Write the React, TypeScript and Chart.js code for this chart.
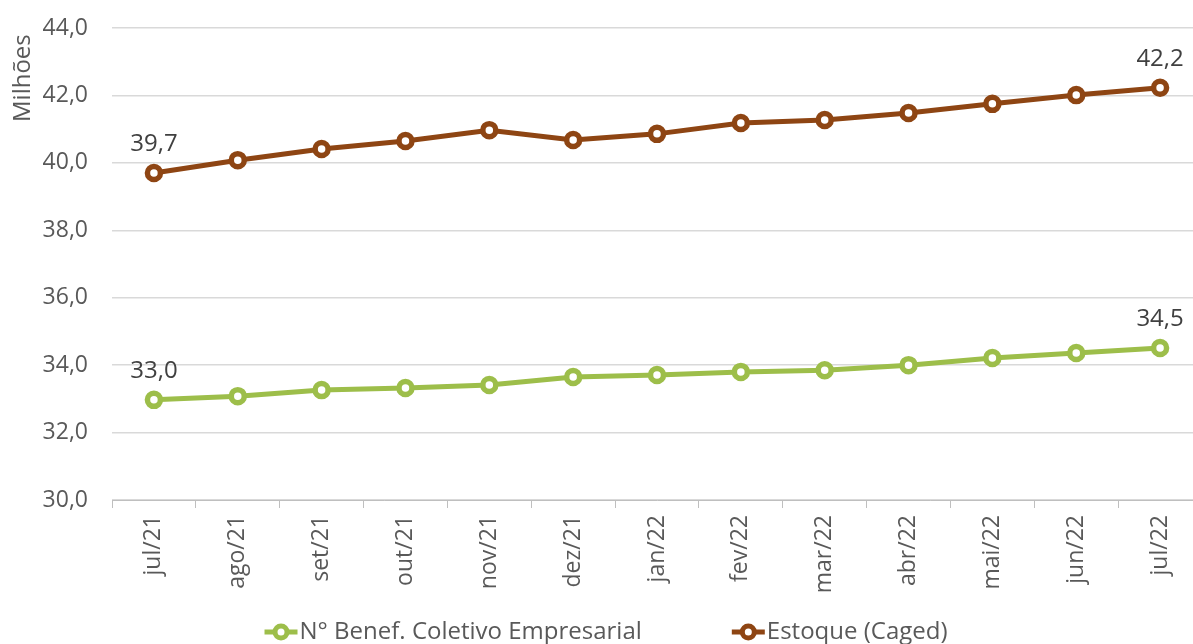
import React, { useEffect, useRef } from "react";
import { Chart, registerables } from "chart.js";

Chart.register(...registerables);

const categories = [
  "jul/21", "ago/21", "set/21", "out/21", "nov/21", "dez/21",
  "jan/22", "fev/22", "mar/22", "abr/22", "mai/22", "jun/22", "jul/22",
];
const coletivo = [32.97, 33.08, 33.26, 33.32, 33.41, 33.65, 33.71, 33.8, 33.85, 34.0, 34.21, 34.36, 34.51];
const estoque = [39.7, 40.08, 40.41, 40.65, 40.97, 40.68, 40.86, 41.18, 41.27, 41.48, 41.75, 42.01, 42.23];
const seriesNames = ["N° Benef. Coletivo Empresarial", "Estoque (Caged)"];
const seriesColors = ["#9DBE4A", "#8E4513"];
const yMin = 30;
const yMax = 44;
const yStep = 2;
const yTitle = "Milhões";

const FONT = "'Open Sans', 'Noto Sans', sans-serif";
const fmt = (v: number) => v.toFixed(1).replace(".", ",");

const CANVAS_W = 1214;
const CANVAS_H = 644;

const labelPlugin = {
  id: "endLabels",
  afterDatasetsDraw(chart: any) {
    const ctx = chart.ctx;
    ctx.save();
    ctx.font = `24px ${FONT}`;
    ctx.fillStyle = "#404040";
    ctx.textAlign = "center";
    ctx.textBaseline = "middle";
    chart.data.datasets.forEach((ds: any, i: number) => {
      const meta = chart.getDatasetMeta(i);
      const n = ds.data.length;
      [0, n - 1].forEach((idx) => {
        const el = meta.data[idx];
        ctx.fillText(fmt(ds.data[idx]), el.x, el.y - 29);
      });
    });
    ctx.restore();
  },
};

const legendPlugin = {
  id: "customLegend",
  afterDraw(chart: any) {
    const ctx = chart.ctx;
    ctx.save();
    ctx.font = `24px ${FONT}`;
    const iconW = 33;
    const gapIcon = 2;
    const gapItems = 90;
    const widths = seriesNames.map((t) => ctx.measureText(t).width);
    const total = widths.reduce((a, w) => a + iconW + gapIcon + w, 0) + gapItems * (seriesNames.length - 1);
    let x = 606 - total / 2;
    const y = 632;
    seriesNames.forEach((name, i) => {
      const c = seriesColors[i];
      ctx.strokeStyle = c;
      ctx.lineWidth = 5;
      ctx.beginPath();
      ctx.moveTo(x, y);
      ctx.lineTo(x + iconW, y);
      ctx.stroke();
      ctx.beginPath();
      ctx.arc(x + iconW / 2, y, 6, 0, Math.PI * 2);
      ctx.fillStyle = "#ffffff";
      ctx.fill();
      ctx.lineWidth = 5;
      ctx.stroke();
      ctx.fillStyle = "#595959";
      ctx.textAlign = "left";
      ctx.textBaseline = "middle";
      ctx.fillText(name, x + iconW + gapIcon, y);
      x += iconW + gapIcon + widths[i] + gapItems;
    });
    ctx.restore();
  },
};

export default function App() {
  const ref = useRef<HTMLCanvasElement>(null);
  useEffect(() => {
    document.body.style.overflow = "hidden";
    const chart = new Chart(ref.current as HTMLCanvasElement, {
      type: "line",
      data: {
        labels: categories,
        datasets: [coletivo, estoque].map((d, i) => ({
          label: seriesNames[i],
          data: d,
          borderColor: seriesColors[i],
          backgroundColor: "#ffffff",
          borderWidth: 5,
          pointRadius: 6.5,
          pointBorderWidth: 5.5,
          pointBackgroundColor: "#ffffff",
          pointBorderColor: seriesColors[i],
          tension: 0,
          fill: false,
        })),
      },
      options: {
        animation: false,
        responsive: false,
        maintainAspectRatio: false,
        layout: { padding: { top: 28, right: 0, bottom: 34, left: 0 } },
        plugins: { legend: { display: false }, tooltip: { enabled: false } },
        scales: {
          x: {
            offset: true,
            grid: { offset: true, drawOnChartArea: false, drawTicks: true, tickLength: 8, color: "#bfbfbf" },
            border: { color: "#bfbfbf", width: 1 },
            ticks: {
              minRotation: 90,
              maxRotation: 90,
              autoSkip: false,
              padding: 7,
              color: "#595959",
              font: { family: FONT, size: 23 },
            },
            afterFit: (s: any) => {
              s.height = 110;
              s.paddingLeft = 0;
              s.paddingRight = 0;
            },
          },
          y: {
            min: yMin,
            max: yMax,
            ticks: {
              stepSize: yStep,
              padding: 24,
              color: "#595959",
              font: { family: FONT, size: 23 },
              callback: (v: any) => fmt(Number(v)),
            },
            grid: { color: "#d9d9d9", drawTicks: false, lineWidth: 1.5 },
            border: { display: false },
            title: {
              display: true,
              text: yTitle + " ",
              align: "end",
              color: "#595959",
              font: { family: FONT, size: 24 },
              padding: { top: 9, bottom: 0 },
            },
            afterFit: (s: any) => {
              s.width = 112;
              s.paddingTop = 0;
              s.paddingBottom = 0;
            },
          },
        },
      },
      plugins: [labelPlugin, legendPlugin],
    } as any);
    return () => chart.destroy();
  }, []);
  return (
    <div style={{ position: "fixed", left: 0, top: 0, width: CANVAS_W, height: CANVAS_H, background: "#fff" }}>
      <canvas ref={ref} width={CANVAS_W} height={CANVAS_H} style={{ display: "block" }} />
    </div>
  );
}
